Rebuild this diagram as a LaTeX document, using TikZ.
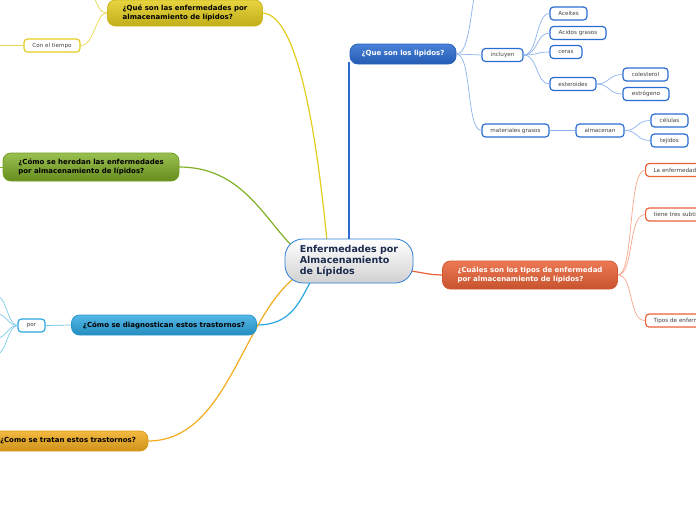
\documentclass[tikz,border=0pt]{standalone}
\usepackage{fontspec}
\setmainfont{DejaVu Sans}
\definecolor{cBlue}{HTML}{2A6CD2}
\definecolor{cBlueL}{HTML}{8CB2EC}
\definecolor{cYel}{HTML}{E2CC1E}
\definecolor{cGrn}{HTML}{80B026}
\definecolor{cCyan}{HTML}{2AA6E0}
\definecolor{cAmb}{HTML}{F2AC1E}
\definecolor{cOrg}{HTML}{EA6236}
\definecolor{cOrgL}{HTML}{F6A68C}
\definecolor{cNavy}{HTML}{1C2B4E}
\begin{document}
\begin{tikzpicture}[x=1pt,y=-1pt,
  topic/.style={rounded corners=8pt, draw, line width=0.8pt, inner sep=0pt,
     font=\fontsize{7}{8.5}\selectfont\bfseries, align=left},
  leaf/.style={rounded corners=3.5pt, draw, line width=1.2pt, fill=white, inner sep=0pt,
     minimum height=13pt, font=\fontsize{5.6}{6.2}\selectfont, text=black!75},
  bleaf/.style={leaf, draw=cBlue},
  oleaf/.style={leaf, draw=cOrg, anchor=west, text width=66pt, inner xsep=8pt, align=left},
  yleaf/.style={leaf, draw=cYel},
  cleaf/.style={leaf, draw=cCyan},
  mainedge/.style={line width=1.2pt},
  subedge/.style={line width=0.7pt}
]
\path[use as bounding box] (0,0) rectangle (696,520);
\clip (0,0) rectangle (696,520);

% ---------- edges from centre ----------
\draw[mainedge, cYel] (262,13) .. controls (300,13) and (318,150) .. (327,241);
\draw[mainedge, cGrn] (179,167) .. controls (240,167) and (262,215) .. (292,246);
\draw[mainedge, cBlue] (349,241) -- (349,62);
\draw[mainedge, cCyan] (257,325) .. controls (292,325) and (300,300) .. (311,281);
\draw[mainedge, cAmb] (148,441) .. controls (228,441) and (242,316) .. (297,276);
\draw[mainedge, cOrg] (411,271) .. controls (425,273) and (430,275) .. (444,275);

% ---------- central ----------
\node[draw=cBlue!70!cCyan, line width=0.8pt, rounded corners=18pt, top color=white, bottom color=black!18,
      minimum width=128pt, minimum height=44pt, inner sep=0pt, align=left,
      font=\fontsize{9.5}{11}\selectfont\bfseries, text=cNavy]
  (c) at (349,261) {Enfermedades por\\Almacenamiento\\de Lípidos};

% ---------- main topics ----------
\node[topic, draw=cYel!90!black, top color=cYel!85!white, bottom color=cYel!85!black,
      minimum width=155pt, minimum height=26pt]
  (y) at (185,13) {¿Qué son las enfermedades por\\almacenamiento de lípidos?};
\node[topic, draw=cGrn!90!black, top color=cGrn!80!white, bottom color=cGrn!80!black,
      minimum width=176pt, minimum height=28pt]
  (g) at (91,167) {¿Cómo se heredan las enfermedades\\por almacenamiento de lípidos?};
\node[topic, draw=cCyan!90!black, top color=cCyan!80!white, bottom color=cCyan!85!black,
      minimum width=185pt, minimum height=20pt]
  (cy) at (164,325) {¿Cómo se diagnostican estos trastornos?};
\node[topic, draw=cAmb!90!black, top color=cAmb!85!white, bottom color=cAmb!85!black,
      minimum width=160pt, minimum height=20pt]
  (a) at (68,441) {¿Como se tratan estos trastornos?};
\node[topic, draw=cBlue!90!black, top color=cBlue!85!white, bottom color=cBlue!85!black, text=white,
      minimum width=106pt, minimum height=20pt]
  (b) at (403,54) {¿Que son los lipidos?};
\node[topic, draw=cOrg!90!black, top color=cOrg!85!white, bottom color=cOrg!85!black, text=white,
      minimum width=175pt, minimum height=28pt]
  (o) at (530,275) {¿Cuáles son los tipos de enfermedad\\por almacenamiento de lípidos?};

% ---------- blue subtree ----------
\node[bleaf, minimum width=41pt] (inc) at (502.5,55) {incluyen};
\node[bleaf, minimum width=37pt] (ac) at (568.5,13.5) {Aceites};
\node[bleaf, minimum width=56pt] (ag) at (578,33) {Acidos grasos};
\node[bleaf, minimum width=32pt] (ce) at (566,52) {ceras};
\node[bleaf, minimum width=46pt] (es) at (573,84) {esteroides};
\node[bleaf, minimum width=45pt] (co) at (645.5,74.5) {colesterol};
\node[bleaf, minimum width=46pt] (et) at (646,94) {estrógeno};
\node[bleaf, minimum width=67pt] (mg) at (515.5,130.5) {materiales grasos};
\node[bleaf, minimum width=48pt] (al) at (600,130.5) {almacenan};
\node[bleaf, minimum width=37pt] (ce2) at (669.5,120.5) {células};
\node[bleaf, minimum width=37pt] (te) at (669.5,140.5) {tejidos};
\coordinate (bup) at (474,-2);

\draw[subedge, cBlueL] (b.east) -- (inc.west);
\draw[subedge, cBlueL] (b.east) .. controls (468,54) and (470,20) .. (bup);
\draw[subedge, cBlueL] (b.east) .. controls (472,54) and (466,130) .. (mg.west);
\foreach \t in {ac,ag,ce,es}
  \draw[subedge, cBlueL] (inc.east) .. controls (538,55) and (536,0|-\t.west) .. (\t.west);
\foreach \t in {co,et}
  \draw[subedge, cBlueL] (es.east) .. controls (610,84) and (608,0|-\t.west) .. (\t.west);
\draw[subedge, cBlueL] (mg.east) -- (al.west);
\foreach \t in {ce2,te}
  \draw[subedge, cBlueL] (al.east) .. controls (638,130.5) and (636,0|-\t.west) .. (\t.west);

% ---------- orange subtree ----------
\node[oleaf] (o1) at (645,170) {La enfermedad};
\node[oleaf] (o2) at (645,214.5) {tiene tres subtipos};
\node[oleaf] (o3) at (645,320.5) {Tipos de enfermedad};
\foreach \t in {o1,o2,o3}
  \draw[subedge, cOrgL] (o.east) .. controls (634,275) and (628,0|-\t.west) .. (\t.west);

% ---------- yellow subtree ----------
\node[yleaf, minimum width=56pt] (ct) at (52,45.5) {Con el tiempo};
\coordinate (yup) at (94,-3);
\coordinate (yl) at (-3,45.5);
\draw[subedge, cYel!80!white] (y.west) .. controls (95,13) and (95,45.5) .. (ct.east);
\draw[subedge, cYel!80!white] (y.west) .. controls (99,13) and (97,3) .. (yup);
\draw[subedge, cYel!80!white] (ct.west) -- (yl);

% ---------- green subtree ----------
\coordinate (gl) at (-3,167);
\draw[subedge, cGrn] (g.west) -- (gl);

% ---------- cyan subtree ----------
\node[cleaf, minimum width=27pt] (por) at (31.5,325.5) {por};
\draw[subedge, cCyan!70!white] (por.east) -- (cy.west);
\coordinate (p1) at (-3,296);
\coordinate (p2) at (-3,314);
\coordinate (p3) at (-3,338);
\coordinate (p4) at (-3,354);
\foreach \t in {p1,p2,p3,p4}
  \draw[subedge, cCyan!60!white] (por.west) .. controls (8,325.5) and (6,0|-\t) .. (\t);
\end{tikzpicture}
\end{document}
